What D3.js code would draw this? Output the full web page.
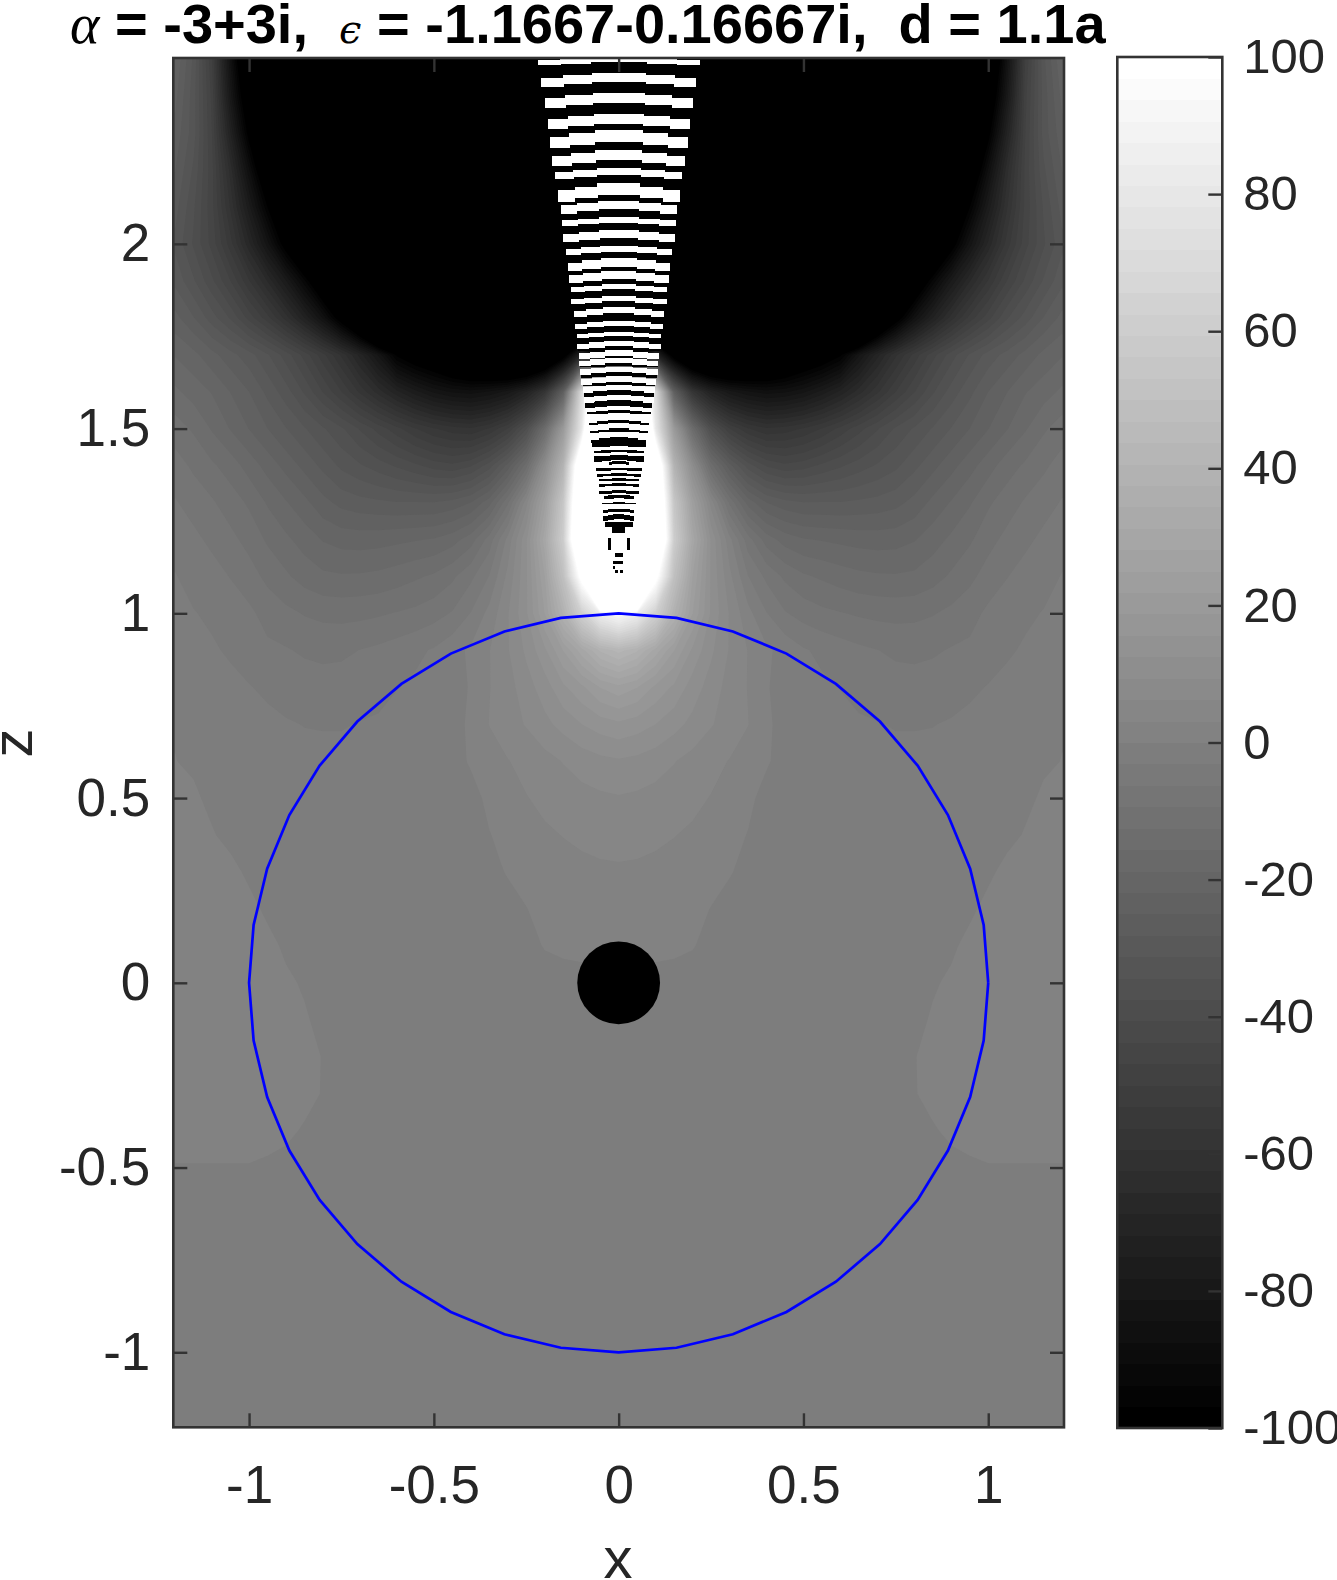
<!DOCTYPE html>
<html><head><meta charset="utf-8">
<script src="https://cdn.jsdelivr.net/npm/d3@7"></script>
<style>
html,body{margin:0;padding:0;background:#fff}
svg{display:block}
text{font-family:"Liberation Sans",Arial,sans-serif;fill:#262626;white-space:pre}
</style></head><body>
<svg id="c" width="1337" height="1580"></svg>
<script>
// Tick labels
const xTicks=[-1,-0.5,0,0.5,1];
const zTicks=[-1,-0.5,0,0.5,1,1.5,2];
const barTicks=[-100,-80,-60,-40,-20,0,20,40,60,80,100];
// Field samples: x = 0..1.2 (step .05, mirrored about x=0)
const xSamples=[0,.05,.1,.15,.2,.25,.3,.35,.4,.45,.5,.55,.6,.65,.7,.75,.8,.85,.9,.95,1,1.05,1.1,1.15,1.2];
const zSamples=[2.5,2.4,2.3,2.2,2.1,2,1.9,1.8,1.7,1.6,1.5,1.4,1.3,1.2,1.1,1,.9,.8,.7,.6,.5,.4,.3,.2,.1,0,-.1,-.2,-.3,-.4,-.5,-.6,-.7,-.8,-.9,-1,-1.1,-1.2];
const field=[
[-160,-160,-160,-160,-160,-160,-160,-160,-160,-160,-160,-160,-160,-160,-160,-160,-160,-160,-160,-160,-120,-85,-50,-32,-22],
[-160,-160,-160,-160,-160,-160,-160,-160,-160,-160,-160,-160,-160,-160,-160,-160,-160,-160,-160,-140,-110,-80,-48,-33,-24],
[-160,-160,-160,-160,-160,-160,-160,-160,-160,-160,-160,-160,-160,-160,-160,-160,-160,-160,-160,-125,-100,-72,-47,-33,-26],
[-160,-160,-160,-160,-160,-160,-160,-160,-160,-160,-160,-160,-160,-160,-160,-160,-160,-160,-140,-112,-87,-64,-46,-35,-28],
[-160,-160,-160,-160,-160,-160,-160,-160,-160,-160,-160,-160,-160,-160,-160,-160,-160,-150,-122,-97,-77,-60,-46,-37,-30],
[-160,-160,-160,-160,-160,-160,-160,-160,-160,-160,-160,-160,-160,-160,-160,-160,-150,-125,-102,-83,-68,-55,-45,-38,-32],
[-160,-160,-160,-160,-160,-160,-160,-160,-160,-160,-160,-160,-160,-160,-160,-140,-112,-93,-78,-66,-56,-47,-40,-34,-29],
[-160,-160,-160,-160,-160,-160,-160,-160,-160,-160,-160,-160,-160,-160,-125,-103,-85,-72,-61,-52,-45,-38,-33,-28,-24],
[-100,-100,-70,-105,-125,-135,-135,-130,-125,-118,-110,-105,-98,-82,-70,-60,-52,-45,-39,-34,-30,-27,-24,-21,-19],
[200,150,70,-25,-58,-72,-80,-84,-86,-85,-82,-77,-71,-64,-57,-50,-44,-38,-33,-29,-25,-22,-19,-17,-15],
[300,200,80,20,-15,-38,-50,-56,-59,-58,-56,-53,-49,-45,-41,-37,-34,-31,-28,-25,-22,-19,-16,-13,-11],
[400,300,130,40,10,-14,-27,-36,-41,-43,-42,-40,-38,-36,-34,-32,-29,-26,-23,-20,-17,-14,-12,-10,-8],
[500,350,140,55,24,5,-10,-20,-25,-27,-28,-28,-28,-27.5,-27,-26,-24,-21,-18.5,-16,-13,-11,-9,-7.5,-6],
[600,400,150,60,30,12,1,-8,-14,-17,-18.5,-19,-19.5,-20,-20.2,-20,-19,-17,-15,-13,-10.5,-8.5,-7,-5.5,-4],
[500,300,105,50,25,12,4,-3,-7,-10,-12,-13,-14,-14.8,-15.2,-15.3,-15,-13.8,-12,-10.2,-8,-6.4,-5,-4,-3],
[95,85,62,38,22,12,6,1,-3,-6,-7.5,-8.6,-9.2,-9.8,-10.2,-10.4,-10.2,-9.6,-8.6,-7.4,-5.6,-4.5,-3.6,-3,-2],
[42,38,30,22,15,10,6,3,.5,-1,-2.8,-3.8,-4.8,-5.6,-6.2,-6.8,-7,-6.7,-6,-5.6,-4.3,-3.5,-2.8,-2.2,-1.5],
[24,22,18,15,11,8,5,3,.3,-1.5,-2,-2.6,-3.2,-3.9,-4.5,-5,-5,-4.7,-4.2,-3.6,-3,-2.4,-2,-1.6,-1.2],
[15,14,12.5,10.5,8.5,6.5,4.8,3.2,.6,-1.2,-1.5,-2,-2.4,-2.8,-3,-3.3,-3.3,-3.2,-2.9,-2.5,-2.2,-1.8,-1.4,-1,-.3],
[9,8.5,7.6,6.4,5.2,4,3,1.8,.3,-1,-1.5,-1.7,-1.9,-2.1,-2.3,-2.4,-2.4,-2.4,-2.2,-2,-1.7,-1.5,-1.2,-.8,.1],
[6,5.7,5.2,4.6,3.8,3,2.2,.6,-.9,-1.5,-1.6,-1.7,-1.8,-1.9,-1.9,-1.9,-1.9,-1.8,-1.7,-1.6,-1.5,-1.5,-1.2,.8,1.5],
[4,3.9,3.6,3.2,2.7,2,.8,-.1,-1.5,-1.5,-1.5,-1.5,-1.5,-1.5,-1.5,-1.5,-1.5,-1.5,-1.5,-1.5,-1.5,-1.5,.4,1.5,1.5],
[2.8,2.7,2.5,2.2,1.8,1.3,.3,-1.2,-1.5,-1.5,-1.5,-1.5,-1.5,-1.5,-1.5,-1.5,-1.5,-1.5,-1.5,-1.5,-1,1.5,1.5,1.5,1.5],
[2,1.9,1.7,1.4,1,-.1,-1.5,-1.5,-1.5,-1.5,-1.5,-1.5,-1.5,-1.5,-1.5,-1.5,-1.5,-1.5,-1.5,-1,1.5,1.5,1.5,1.5,1.5],
[1.5,1.4,1.2,.8,.2,-1,-1.5,-1.5,-1.5,-1.5,-1.5,-1.5,-1.5,-1.5,-1.5,-1.5,-1.5,-1.5,-.9,1.5,1.5,1.5,1.5,1.5,1.5],
[-1.5,-1.5,-1.5,-1.5,-1.5,-1.5,-1.5,-1.5,-1.5,-1.5,-1.5,-1.5,-1.5,-1.5,-1.5,-1.5,-1.5,-.6,.9,1.5,1.5,1.5,1.5,1.5,1.5],
[-1.5,-1.5,-1.5,-1.5,-1.5,-1.5,-1.5,-1.5,-1.5,-1.5,-1.5,-1.5,-1.5,-1.5,-1.5,-1.5,-1.5,.6,1.5,1.5,1.5,1.5,1.5,1.5,1.5],
[-1.5,-1.5,-1.5,-1.5,-1.5,-1.5,-1.5,-1.5,-1.5,-1.5,-1.5,-1.5,-1.5,-1.5,-1.5,-1.5,-.2,1.5,1.5,1.5,1.5,1.5,1.5,1.5,1.5],
[-1.5,-1.5,-1.5,-1.5,-1.5,-1.5,-1.5,-1.5,-1.5,-1.5,-1.5,-1.5,-1.5,-1.5,-1.5,-1.5,-.3,1.5,1.5,1.5,1.5,1.5,1.5,1.5,1.5],
[-1.5,-1.5,-1.5,-1.5,-1.5,-1.5,-1.5,-1.5,-1.5,-1.5,-1.5,-1.5,-1.5,-1.5,-1.5,-1.5,-1.5,-.5,1,1.5,1.5,1.5,1.5,1.5,1.5],
[-1.5,-1.5,-1.5,-1.5,-1.5,-1.5,-1.5,-1.5,-1.5,-1.5,-1.5,-1.5,-1.5,-1.5,-1.5,-1.5,-1.5,-1.5,-1.5,-.7,-.2,-.2,-.2,-.2,-.2],
[-1.5,-1.5,-1.5,-1.5,-1.5,-1.5,-1.5,-1.5,-1.5,-1.5,-1.5,-1.5,-1.5,-1.5,-1.5,-1.5,-1.5,-1.5,-1.5,-1.5,-1.5,-1.5,-1.5,-1.5,-1.5],
[-1.5,-1.5,-1.5,-1.5,-1.5,-1.5,-1.5,-1.5,-1.5,-1.5,-1.5,-1.5,-1.5,-1.5,-1.5,-1.5,-1.5,-1.5,-1.5,-1.5,-1.5,-1.5,-1.5,-1.5,-1.5],
[-1.5,-1.5,-1.5,-1.5,-1.5,-1.5,-1.5,-1.5,-1.5,-1.5,-1.5,-1.5,-1.5,-1.5,-1.5,-1.5,-1.5,-1.5,-1.5,-1.5,-1.5,-1.5,-1.5,-1.5,-1.5],
[-1.5,-1.5,-1.5,-1.5,-1.5,-1.5,-1.5,-1.5,-1.5,-1.5,-1.5,-1.5,-1.5,-1.5,-1.5,-1.5,-1.5,-1.5,-1.5,-1.5,-1.5,-1.5,-1.5,-1.5,-1.5],
[-1.5,-1.5,-1.5,-1.5,-1.5,-1.5,-1.5,-1.5,-1.5,-1.5,-1.5,-1.5,-1.5,-1.5,-1.5,-1.5,-1.5,-1.5,-1.5,-1.5,-1.5,-1.5,-1.5,-1.5,-1.5],
[-1.5,-1.5,-1.5,-1.5,-1.5,-1.5,-1.5,-1.5,-1.5,-1.5,-1.5,-1.5,-1.5,-1.5,-1.5,-1.5,-1.5,-1.5,-1.5,-1.5,-1.5,-1.5,-1.5,-1.5,-1.5],
[-1.5,-1.5,-1.5,-1.5,-1.5,-1.5,-1.5,-1.5,-1.5,-1.5,-1.5,-1.5,-1.5,-1.5,-1.5,-1.5,-1.5,-1.5,-1.5,-1.5,-1.5,-1.5,-1.5,-1.5,-1.5]
];
// Fringes above the sphere: centre z, half width in x, thickness in z
const whiteZ=[2.497,2.451,2.396,2.339,2.292,2.240,2.195,2.148,2.105,2.065,2.027,1.987,1.950,1.916,1.884,1.851,1.820,1.785,1.757,1.730,1.704,1.684,1.661,1.634,1.612,1.585,1.556,1.533,1.508,1.485];
const whiteHalf=[.219,.209,.200,.192,.185,.179,.171,.165,.157,.153,.150,.143,.138,.134,.130,.129,.122,.119,.114,.113,.108,.106,.104,.101,.097,.093,.087,.083,.079,.074];
const whiteThick=[.012,.025,.027,.027,.030,.027,.018,.032,.022,.016,.020,.016,.023,.020,.014,.014,.016,.014,.011,.015,.015,.014,.014,.014,.014,.014,.010,.016,.014,.014];
const blackZ=[1.741,1.717,1.696,1.673,1.648,1.622,1.598,1.569,1.546,1.519,1.496,1.472,1.459,1.439,1.422,1.409,1.391,1.375,1.362,1.348,1.329,1.316,1.298,1.279,1.261];
const blackHalf=[.113,.110,.106,.104,.102,.097,.094,.090,.085,.081,.077,.074,.072,.066,.066,.026,.061,.059,.053,.053,.053,.039,.045,.041,.041];
const blackThick=[.008,.009,.009,.009,.014,.009,.014,.018,.009,.011,.009,.014,.012,.006,.014,.009,.007,.007,.006,.007,.009,.009,.004,.009,.014];
// Small black fragments near the tip: x0,x1,z0,z1
const tipX0=[-.036,-.018,-.030,.022,-.009,-.016,-.016,-.009,.005];
const tipX1=[.038,.018,-.021,.031,.013,.013,-.009,-.002,.012];
const tipZ0=[1.247,1.234,1.203,1.203,1.162,1.142,1.128,1.117,1.117];
const tipZ1=[1.234,1.218,1.171,1.171,1.153,1.133,1.119,1.108,1.108];
const discRadius=0.112;
const sphereSteps=40;

const svg=d3.select("#c");
const x=d3.scaleLinear().domain([-1.205,1.205]).range([173.3,1064]);
const z=d3.scaleLinear().domain([-1.203,2.503]).range([1427.3,58]);
const bar=d3.scaleLinear().domain([-100,100]).range([1428,57]);
const gray=i=>{const g=Math.round(i/63*255);return `rgb(${g},${g},${g})`;};

svg.append("defs").append("clipPath").attr("id","ax").append("rect")
 .attr("x",x.range()[0]).attr("y",z.range()[1]).attr("width",x.range()[1]-x.range()[0]).attr("height",z.range()[0]-z.range()[1]);
const plot=svg.append("g").attr("clip-path","url(#ax)");
plot.append("rect").attr("x",x.range()[0]).attr("y",z.range()[1]).attr("width",x.range()[1]-x.range()[0]).attr("height",z.range()[0]-z.range()[1]).attr("fill",gray(0));

// Field as 64 filled gray levels
const nCols=xSamples.length*2-1,nRows=zSamples.length;
const flat=field.flatMap(r=>[...r.slice(1).reverse(),...r]);
const levels=d3.range(1,64);
const contours=d3.contours().size([nCols,nRows]).smooth(true).thresholds(levels.map(i=>-100+i*200/64))(flat);
const dx=xSamples[1]-xSamples[0],dz=zSamples[0]-zSamples[1],x0=-xSamples[xSamples.length-1],z0=zSamples[0];
const proj=d3.geoTransform({point(X,Y){this.stream.point(x(x0+(X-.5)*dx),z(z0-(Y-.5)*dz));}});
const gp=d3.geoPath(proj);
plot.append("g").selectAll("path").data(contours).join("path").attr("d",gp).attr("fill",(d,i)=>gray(levels[i]));

// Fringes
const seg=[[0,.35,0],[.35,.72,.5],[.72,1,1]];
function fringe(zs,hs,ts,color,dropK){
  const g=plot.append("g").attr("fill",color).attr("shape-rendering","crispEdges");
  zs.forEach((zc,i)=>{
    const h=hs[i],t=ts[i],dr=t*dropK;
    seg.forEach(([a,b,k])=>{
      [[-b,-a],[a,b]].forEach(([l,r])=>{
        g.append("rect").attr("x",x(l*h)).attr("width",x(r*h)-x(l*h)+.5)
         .attr("y",z(zc-k*dr+t/2)).attr("height",z(0)-z(t));
      });
    });
  });
}
fringe(blackZ,blackHalf,blackThick,"#000",.3);
fringe(whiteZ,whiteHalf,whiteThick,"#fff",.55);
plot.append("g").attr("fill","#000").attr("shape-rendering","crispEdges").selectAll("rect").data(tipX0).join("rect")
 .attr("x",(d,i)=>x(tipX0[i])).attr("width",(d,i)=>x(tipX1[i])-x(tipX0[i]))
 .attr("y",(d,i)=>z(tipZ0[i])).attr("height",(d,i)=>z(tipZ1[i])-z(tipZ0[i]));

// Central disc and sphere outline
plot.append("circle").attr("cx",x(0)).attr("cy",z(0)).attr("r",x(discRadius)-x(0)).attr("fill","#000");
const sphere=d3.range(sphereSteps+1).map(i=>2*Math.PI*i/sphereSteps);
plot.append("path").attr("d",d3.line().x(t=>x(Math.cos(t))).y(t=>z(Math.sin(t)))(sphere)).attr("fill","none").attr("stroke","#0000ff").attr("stroke-width",2.7);

// Axes
const tickLen=14,axFont=53,barFont=49,axCol="#333";
function styleAxis(g,font){g.select(".domain").remove();g.selectAll("line").attr("stroke",axCol).attr("stroke-width",2.4);g.selectAll("text").attr("font-size",font).attr("fill","#262626");}
const fmt=d=>String(d);
svg.append("g").attr("transform",`translate(0,${z.range()[0]})`).call(d3.axisBottom(x).tickValues(xTicks).tickFormat(fmt).tickSizeOuter(0).tickSizeInner(-tickLen).tickPadding(38)).call(styleAxis,axFont);
svg.append("g").attr("transform",`translate(0,${z.range()[1]})`).call(d3.axisTop(x).tickValues(xTicks).tickFormat("").tickSizeOuter(0).tickSizeInner(-tickLen)).call(styleAxis,axFont);
svg.append("g").attr("transform",`translate(${x.range()[0]},0)`).call(d3.axisLeft(z).tickValues(zTicks).tickFormat(fmt).tickSizeOuter(0).tickSizeInner(-tickLen).tickPadding(23)).call(styleAxis,axFont);
svg.append("g").attr("transform",`translate(${x.range()[1]},0)`).call(d3.axisRight(z).tickValues(zTicks).tickFormat("").tickSizeOuter(0).tickSizeInner(-tickLen)).call(styleAxis,axFont);
svg.append("rect").attr("x",x.range()[0]).attr("y",z.range()[1]).attr("width",x.range()[1]-x.range()[0]).attr("height",z.range()[0]-z.range()[1]).attr("fill","none").attr("stroke",axCol).attr("stroke-width",2.6);

// Colorbar
const barL=1117.3,barR=1222.3;
const cells=d3.range(64);
svg.append("g").attr("shape-rendering","crispEdges").selectAll("rect").data(cells).join("rect")
 .attr("x",barL).attr("width",barR-barL)
 .attr("y",i=>bar(-100+(i+1)*200/64)).attr("height",i=>bar(-100+i*200/64)-bar(-100+(i+1)*200/64)+.5)
 .attr("fill",i=>gray(i));
svg.append("g").attr("transform",`translate(${barR},0)`).call(d3.axisRight(bar).tickValues(barTicks).tickFormat(fmt).tickSizeOuter(0).tickSizeInner(-tickLen).tickPadding(21)).call(styleAxis,barFont);
svg.append("rect").attr("x",barL).attr("y",bar(100)).attr("width",barR-barL).attr("height",bar(-100)-bar(100)).attr("fill","none").attr("stroke",axCol).attr("stroke-width",2.6);

// Labels
svg.append("text").attr("x",618).attr("y",1578).attr("text-anchor","middle").attr("font-size",58).text("x");
svg.append("text").attr("transform","translate(32,743) rotate(-90)").attr("text-anchor","middle").attr("font-size",58).text("z");

// Title
const title=svg.append("text").attr("x",70).attr("y",43).attr("font-size",56).attr("font-weight","bold").style("fill","#000");
title.append("tspan").attr("font-family","Liberation Serif").attr("font-style","italic").attr("font-weight","normal").text("α");
title.append("tspan").text(" = -3+3i,  ");
title.append("tspan").attr("font-family","DejaVu Serif").attr("font-style","italic").attr("font-weight","normal").attr("font-size",40).text("ϵ");
title.append("tspan").text(" = -1.1667-0.16667i,  d = 1.1a");
</script>
</body></html>
